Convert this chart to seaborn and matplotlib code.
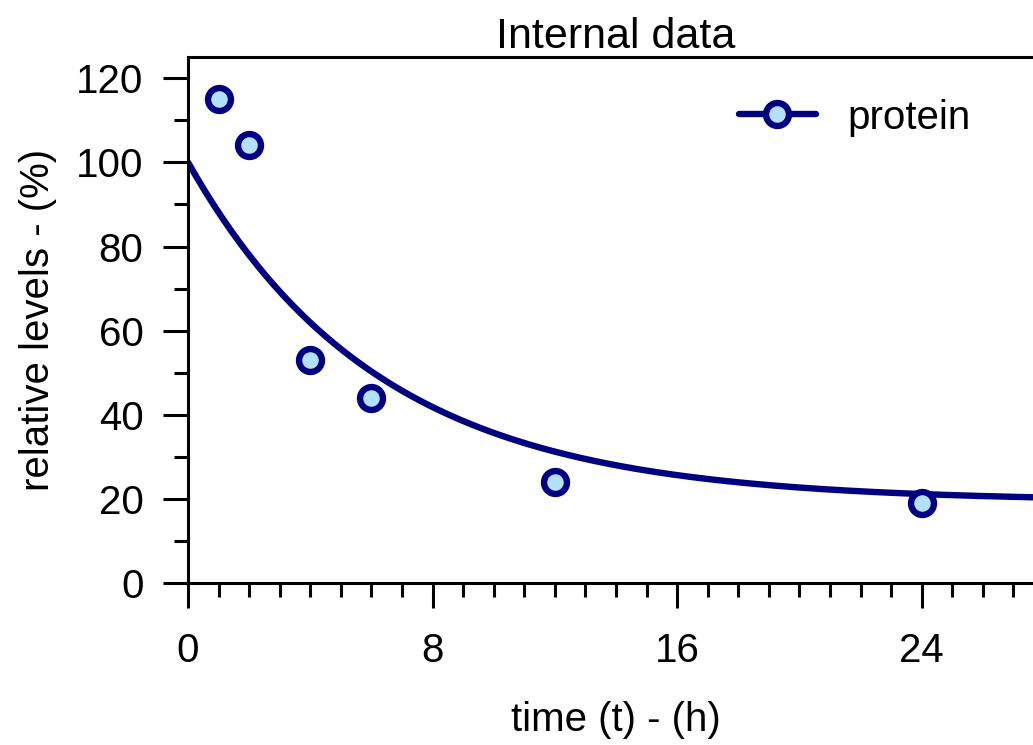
import numpy as np
import pandas as pd
import matplotlib
matplotlib.use("Agg")
import matplotlib.pyplot as plt
from matplotlib.lines import Line2D
from matplotlib.ticker import MultipleLocator
import seaborn as sns

# Measured protein levels (% of t=0)
time_h = [1, 2, 4, 6, 12, 24]
protein_pct = [115, 104, 53, 44, 24, 19]

# One-phase exponential decay model parameters
decay_start = 100.0
decay_plateau = 19.5
decay_rate = 0.16  # per hour

x_ticks = [0, 8, 16, 24]
y_ticks = [0, 20, 40, 60, 80, 100, 120]

navy = "#000080"
fill = "#b3e1fb"

sns.set_theme(style="ticks")
plt.rcParams["font.family"] = ["Liberation Sans", "DejaVu Sans"]
plt.rcParams["text.color"] = "black"
plt.rcParams["axes.labelcolor"] = "black"

fig = plt.figure(figsize=(10.33, 7.45), dpi=100)
ax = fig.add_axes([0.182, 0.2168, 0.8287, 0.7067])

t_fit = np.linspace(0, 28, 300)
fit_df = pd.DataFrame({
    "t": t_fit,
    "y": decay_plateau + (decay_start - decay_plateau) * np.exp(-decay_rate * t_fit),
})
sns.lineplot(data=fit_df, x="t", y="y", ax=ax, color=navy, linewidth=4.6,
             legend=False)

pts = pd.DataFrame({"t": time_h, "y": protein_pct})
ax.plot(pts["t"], pts["y"], linestyle="none", marker="o", markersize=16.5,
        markerfacecolor=fill, markeredgecolor=navy, markeredgewidth=4.6,
        zorder=5, clip_on=False)

ax.set_xlim(0, 28)
ax.set_ylim(0, 125)
ax.set_xticks(x_ticks)
ax.set_yticks(y_ticks)
ax.xaxis.set_minor_locator(MultipleLocator(1))
ax.yaxis.set_minor_locator(MultipleLocator(10))

for side in ["left", "bottom", "top", "right"]:
    ax.spines[side].set_linewidth(2.2)
    ax.spines[side].set_color("black")

ax.tick_params(axis="both", which="major", length=18, width=2.2, labelsize=29,
               colors="black")
ax.tick_params(axis="both", which="minor", length=10, width=2.2, colors="black")
ax.tick_params(axis="x", which="major", pad=17)
ax.tick_params(axis="y", which="major", pad=14)
ax.tick_params(top=False, right=False, which="both")

ax.set_xlabel("time (t) - (h)", fontsize=29, labelpad=22)
ax.set_ylabel("relative levels - (%)", fontsize=29, labelpad=14)
ax.set_title("Internal data", fontsize=31, pad=6)

handle = Line2D([0], [0], color=navy, linewidth=4.6, marker="o", markersize=16.5,
                markerfacecolor=fill, markeredgecolor=navy, markeredgewidth=4.6)
ax.legend([handle], ["protein"], loc="upper right", frameon=False, fontsize=29,
          handlelength=1.9, handletextpad=0.8, bbox_to_anchor=(0.957, 0.99))

fig.savefig("out.png", dpi=100)
